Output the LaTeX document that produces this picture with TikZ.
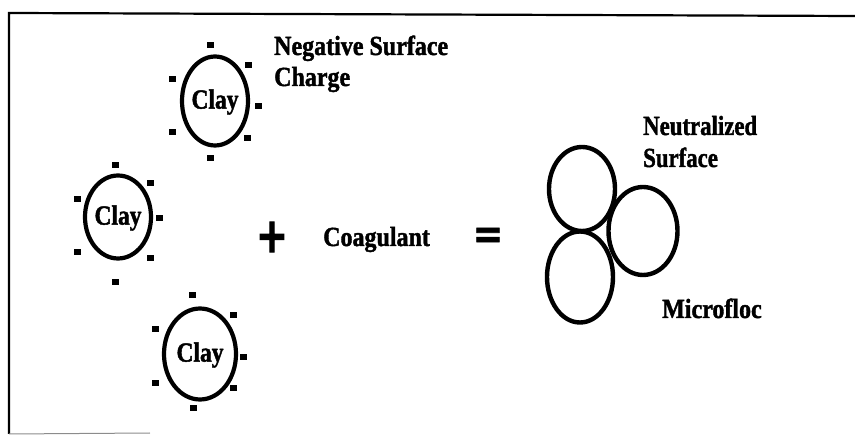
\documentclass[tikz,border=0pt]{standalone}
\usepackage{fontspec}
\setmainfont{Liberation Serif}
\newfontfamily\heavy{Liberation Serif}[BoldFeatures={FakeBold=1.6}]
\newfontfamily\symheavy{DejaVu Sans}[BoldFeatures={FakeBold=2}]
\usetikzlibrary{shapes.geometric}
\begin{document}
\begin{tikzpicture}[x=1pt,y=-1pt,
  lbl/.style={font=\fontsize{24}{28}\selectfont\heavy\bfseries, inner sep=0pt, anchor=base west},
  claytxt/.style={font=\fontsize{24}{28}\selectfont\heavy\bfseries, inner sep=0pt},
  particle/.style={ellipse, draw, line width=4.2pt, inner sep=0pt},
  chg/.style={rectangle, fill, minimum width=7pt, minimum height=6pt, inner sep=0pt},
  frameline/.style={line width=2.2pt}]
\useasboundingbox (0,0) rectangle (855,435);
% frame
\coordinate (f1) at (9,434);
\coordinate (f2) at (9,13);
\coordinate (f3) at (855,16);
\coordinate (f4) at (150,433);
\draw[frameline] (f1) -- (f2) -- (f3);
\draw[line width=1pt, black!45] (f1) -- (f4);

% top clay
\node[particle, minimum width=66pt, minimum height=89pt] (c1) at (215,101) {};
\node[claytxt] (c1t) at ([yshift=-1pt]c1.center) {\scalebox{0.98}[1.15]{Clay}};
\node[chg] (c1a) at (210,45) {};
\node[chg] (c1b) at (248,65) {};
\node[chg] (c1c) at (172,79) {};
\node[chg] (c1d) at (258,106) {};
\node[chg] (c1e) at (172,132) {};
\node[chg] (c1f) at (247,138) {};
\node[chg] (c1g) at (210,158) {};

% middle clay
\node[particle, minimum width=66pt, minimum height=83pt] (c2) at (118,217) {};
\node[claytxt] (c2t) at ([yshift=-1pt]c2.center) {\scalebox{0.98}[1.15]{Clay}};
\node[chg] (c2a) at (115,165) {};
\node[chg] (c2b) at (150,183) {};
\node[chg] (c2c) at (77,199) {};
\node[chg] (c2d) at (159,218) {};
\node[chg] (c2e) at (77,252) {};
\node[chg] (c2f) at (150,258) {};
\node[chg] (c2g) at (115,282) {};

% bottom clay
\node[particle, minimum width=72pt, minimum height=91pt] (c3) at (200,354) {};
\node[claytxt] (c3t) at ([yshift=-1pt]c3.center) {\scalebox{0.98}[1.15]{Clay}};
\node[chg] (c3a) at (192,295) {};
\node[chg] (c3b) at (233,315) {};
\node[chg] (c3c) at (155,329) {};
\node[chg] (c3d) at (243,357) {};
\node[chg] (c3e) at (155,383) {};
\node[chg] (c3f) at (233,388) {};
\node[chg] (c3g) at (193,408) {};

% labels
\node[lbl] (neg1) at (274,55) {\scalebox{1.0}[1.15]{Negative Surface}};
\node[lbl] (neg2) at (274,86) {\scalebox{1.0}[1.15]{Charge}};
\node[inner sep=0pt, font=\fontsize{40}{40}\selectfont\symheavy\bfseries] (plus) at (272,237) {\scalebox{0.95}[1.2]{+}};
\node[lbl] (coag) at (323,246) {\scalebox{1.0}[1.15]{Coagulant}};
\node[inner sep=0pt, font=\fontsize{38}{38}\selectfont\symheavy\bfseries] (eq) at (488,238) {\scalebox{0.95}[1.1]{=}};

% microfloc
\node[particle, line width=4.4pt, minimum width=66pt, minimum height=84pt] (m1) at (582,189) {};
\node[particle, line width=4.4pt, minimum width=69pt, minimum height=88pt] (m2) at (643,231) {};
\node[particle, line width=4.4pt, minimum width=66pt, minimum height=91pt] (m3) at (580,277) {};
\node[lbl] (neu1) at (643,135) {\scalebox{0.95}[1.15]{Neutralized}};
\node[lbl] (neu2) at (643,167) {\scalebox{0.95}[1.15]{Surface}};
\node[lbl] (micro) at (662,318) {\scalebox{1.0}[1.15]{Microfloc}};
\end{tikzpicture}
\end{document}
